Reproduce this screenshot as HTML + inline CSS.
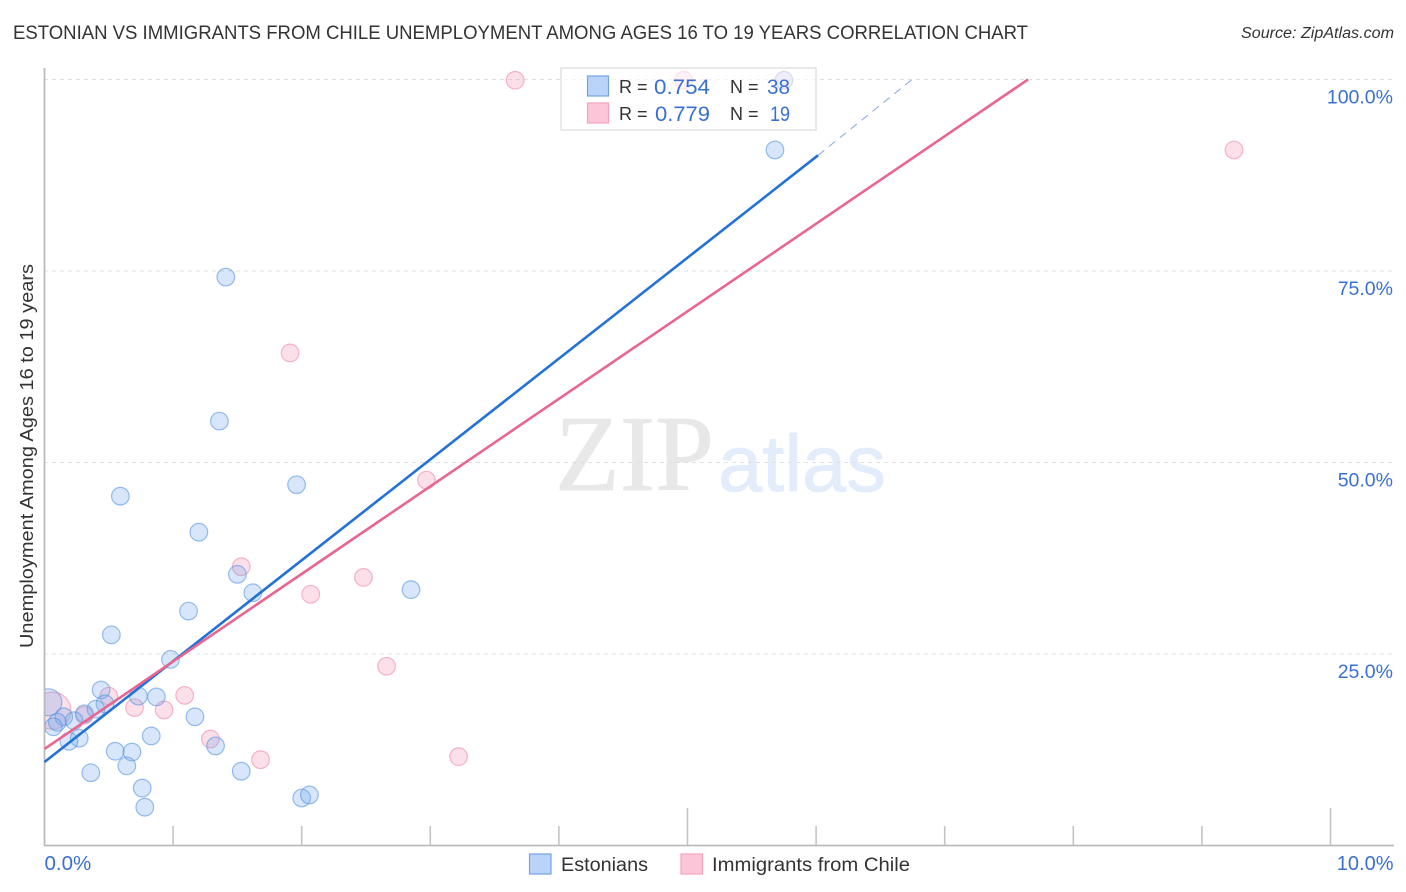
<!DOCTYPE html>
<html>
<head>
<meta charset="utf-8">
<title>Estonian vs Immigrants from Chile Correlation Chart</title>
<style>
html,body{margin:0;padding:0;background:#fff;}
svg{display:block;}
text{font-family:"Liberation Sans",sans-serif;}
</style>
</head>
<body>
<svg id="chart" width="1406" height="892" viewBox="0 0 1406 892" xmlns="http://www.w3.org/2000/svg">
  <defs>
    <clipPath id="plot-clip"><rect x="45" y="60" width="1350" height="785"/></clipPath>
  </defs>
  <text x="13" y="39" font-size="19" fill="#333" textLength="1015" lengthAdjust="spacingAndGlyphs">ESTONIAN VS IMMIGRANTS FROM CHILE UNEMPLOYMENT AMONG AGES 16 TO 19 YEARS CORRELATION CHART</text>
  <text x="1241" y="38" font-size="15.5" font-style="italic" fill="#333" textLength="153" lengthAdjust="spacingAndGlyphs">Source: ZipAtlas.com</text>
  <g>
    <text x="555" y="490" font-size="108" fill="#e8e8e8" stroke="#e8e8e8" stroke-width="0.8" style="font-family:'Liberation Serif',serif" textLength="159" lengthAdjust="spacingAndGlyphs">ZIP</text>
    <text x="718" y="491" font-size="80" fill="#e2ecfa" stroke="#e2ecfa" stroke-width="0.8" textLength="168" lengthAdjust="spacingAndGlyphs">atlas</text>
  </g>
  <g id="grid"></g>
  <g id="axes"></g>
  <g id="points" clip-path="url(#plot-clip)"></g>
  <g id="trends"></g>
  <g id="ylabels"></g>
  <g id="xlabels"></g>
  <text transform="translate(33,456) rotate(-90)" text-anchor="middle" font-size="18" fill="#333" textLength="384" lengthAdjust="spacingAndGlyphs">Unemployment Among Ages 16 to 19 years</text>

  <g>
    <rect x="561" y="68" width="255" height="62" fill="#fff" fill-opacity="0.62" stroke="#e2e2e2" stroke-width="1.5"/>
    <rect x="587.5" y="76" width="21" height="20" fill="#b9d4f8" stroke="#74a3e2" stroke-width="1.2"/>
    <rect x="587.5" y="103" width="21" height="20" fill="#fcc6d9" stroke="#f4a3bd" stroke-width="1.2"/>
    <text x="619" y="93" font-size="18" fill="#333">R =</text>
    <text x="654" y="94" font-size="21" fill="#3a70d2" textLength="56" lengthAdjust="spacingAndGlyphs">0.754</text>
    <text x="730" y="93" font-size="18" fill="#333">N =</text>
    <text x="767" y="94" font-size="21" fill="#3a70d2" textLength="23" lengthAdjust="spacingAndGlyphs">38</text>
    <text x="619" y="120" font-size="18" fill="#333">R =</text>
    <text x="655" y="121" font-size="21" fill="#3a70d2" textLength="55" lengthAdjust="spacingAndGlyphs">0.779</text>
    <text x="730" y="120" font-size="18" fill="#333">N =</text>
    <text x="770" y="121" font-size="21" fill="#3a70d2" textLength="20" lengthAdjust="spacingAndGlyphs">19</text>
  </g>

  <g>
    <rect x="529.5" y="854" width="21.5" height="20" fill="#b9d4f8" stroke="#74a3e2" stroke-width="1.2"/>
    <text x="561" y="871" font-size="19" fill="#333" textLength="87" lengthAdjust="spacingAndGlyphs">Estonians</text>
    <rect x="681" y="854" width="21.5" height="20" fill="#fcc6d9" stroke="#f4a3bd" stroke-width="1.2"/>
    <text x="712" y="871" font-size="19" fill="#333" textLength="198" lengthAdjust="spacingAndGlyphs">Immigrants from Chile</text>
  </g>
</svg>
<script>
const estonianX = [1.41,1.36,0.59,1.96,1.20,1.50,1.62,2.85,1.12,0.52,0.98,5.68,5.75,0.44,0.73,0.87,0.47,0.40,0.31,0.15,0.10,0.07,0.23,0.27,0.19,0.55,0.68,0.64,0.83,1.17,1.33,0.36,0.76,0.78,1.53,2.00,2.06,0.03];
const estonianY = [74.2,55.4,45.6,47.1,40.9,35.4,33.0,33.4,30.6,27.5,24.3,90.8,99.9,20.3,19.5,19.4,18.5,17.8,17.2,16.8,16.1,15.5,16.3,14.0,13.6,12.3,12.2,10.4,14.3,16.8,13.0,9.5,7.5,5.0,9.7,6.2,6.6,18.7];
const estonianWeight = [1,1,1,1,1,1,1,1,1,1,1,1,1,1,1,1,1,1,1,1,1,1,1,1,1,1,1,1,1,1,1,1,1,1,1,1,1,2.34];
const chileX = [3.66,4.97,5.75,9.25,1.91,2.97,1.53,2.48,2.07,2.66,0.50,0.70,0.93,1.09,1.29,1.68,3.22,0.06,0.31];
const chileY = [99.9,99.9,99.9,90.8,64.3,47.7,36.4,35.0,32.8,23.4,19.5,18.0,17.7,19.6,13.9,11.2,11.6,17.6,17.0];
const chileWeight = [1,1,1,1,1,1,1,1,1,1,1,1,1,1,1,1,1,4.5,1];
const estonianTrendX = [0,6.015,6.746];
const estonianTrendY = [10.9,90.1,100];
const chileTrendX = [0,7.648];
const chileTrendY = [12.6,100];
const yTicks = [25,50,75,100];
const yTickLabels = ["25.0%","50.0%","75.0%","100.0%"];
const xTicks = [0,1,2,3,4,5,6,7,8,9,10];
const xEdgeTicks = [0,10];
const xEdgeLabels = ["0.0%","10.0%"];

const NS = "http://www.w3.org/2000/svg";
const sx = v => 44.5 + v * 128.6;
const sy = v => 845.5 - v * 7.66;
function mk(tag, parent, attrs) {
  const el = document.createElementNS(NS, tag);
  Object.keys(attrs).forEach(k => el.setAttribute(k, attrs[k]));
  parent.appendChild(el);
  return el;
}
const grid = document.getElementById("grid");
const axes = document.getElementById("axes");
const points = document.getElementById("points");
const trends = document.getElementById("trends");
const ylabels = document.getElementById("ylabels");
const xlabels = document.getElementById("xlabels");

yTicks.forEach(v => {
  const g = mk("line", grid, {x1: 44, x2: 1394, y1: sy(v), y2: sy(v), stroke: "#e0e0e0", "stroke-width": 1, "stroke-dasharray": "4 4"});
  
  
});

const yAxis = mk("line", axes, {x1: 44.5, x2: 44.5, y1: 68, y2: 846, stroke: "#bbbbbb", "stroke-width": 1.8});


const xAxis = mk("line", axes, {x1: 44, x2: 1394, y1: 845.5, y2: 845.5, stroke: "#bbbbbb", "stroke-width": 1.8});


xTicks.forEach(v => {
  if (v === 0) return;
  const top = v % 5 === 0 ? 808 : 826;
  const t = mk("line", axes, {x1: sx(v), x2: sx(v), y1: top, y2: 845, stroke: "#c4c4c4", "stroke-width": 1.6});
  
  
});

function drawSeries(xs, ys, ws, fill, stroke, name) {
  xs.forEach((v, i) => {
    const c = mk("circle", points, {cx: sx(v), cy: sy(ys[i]), r: 8.8 * Math.sqrt(ws[i]), fill: fill, "fill-opacity": 0.28, stroke: stroke, "stroke-opacity": 0.62, "stroke-width": 1.2});
    
    
  });
}
drawSeries(chileX, chileY, chileWeight, "#f58fb0", "#f08aac", "chile-point");
drawSeries(estonianX, estonianY, estonianWeight, "#6ea6ec", "#5a96e4", "estonian-point");

const blueSolid = mk("line", trends, {x1: sx(estonianTrendX[0]), y1: sy(estonianTrendY[0]), x2: sx(estonianTrendX[1]), y2: sy(estonianTrendY[1]), stroke: "#2272d8", "stroke-width": 2.6});


const blueDash = mk("line", trends, {x1: sx(estonianTrendX[1]), y1: sy(estonianTrendY[1]), x2: sx(estonianTrendX[2]), y2: sy(estonianTrendY[2]), stroke: "#86a6dc", "stroke-width": 1, "stroke-dasharray": "8 6"});


const pinkSolid = mk("line", trends, {x1: sx(chileTrendX[0]), y1: sy(chileTrendY[0]), x2: sx(chileTrendX[1]), y2: sy(chileTrendY[1]), stroke: "#e8668f", "stroke-width": 2.6});



yTicks.forEach((v, i) => {
  const t = mk("text", ylabels, {x: 1393, y: sy(v) + 24, "text-anchor": "end", "font-size": 19.5, fill: "#3a70d2"});
  t.textContent = yTickLabels[i];
  
  
});
xEdgeTicks.forEach((v, i) => {
  const anchor = i === 0 ? "start" : "end";
  const px = i === 0 ? sx(v) : sx(v) + 63;
  const t = mk("text", xlabels, {x: px, y: 870, "text-anchor": anchor, "font-size": i === 0 ? 20.5 : 20, fill: "#3a70d2"});
  t.textContent = xEdgeLabels[i];
  
  
});
</script>
</body>
</html>
